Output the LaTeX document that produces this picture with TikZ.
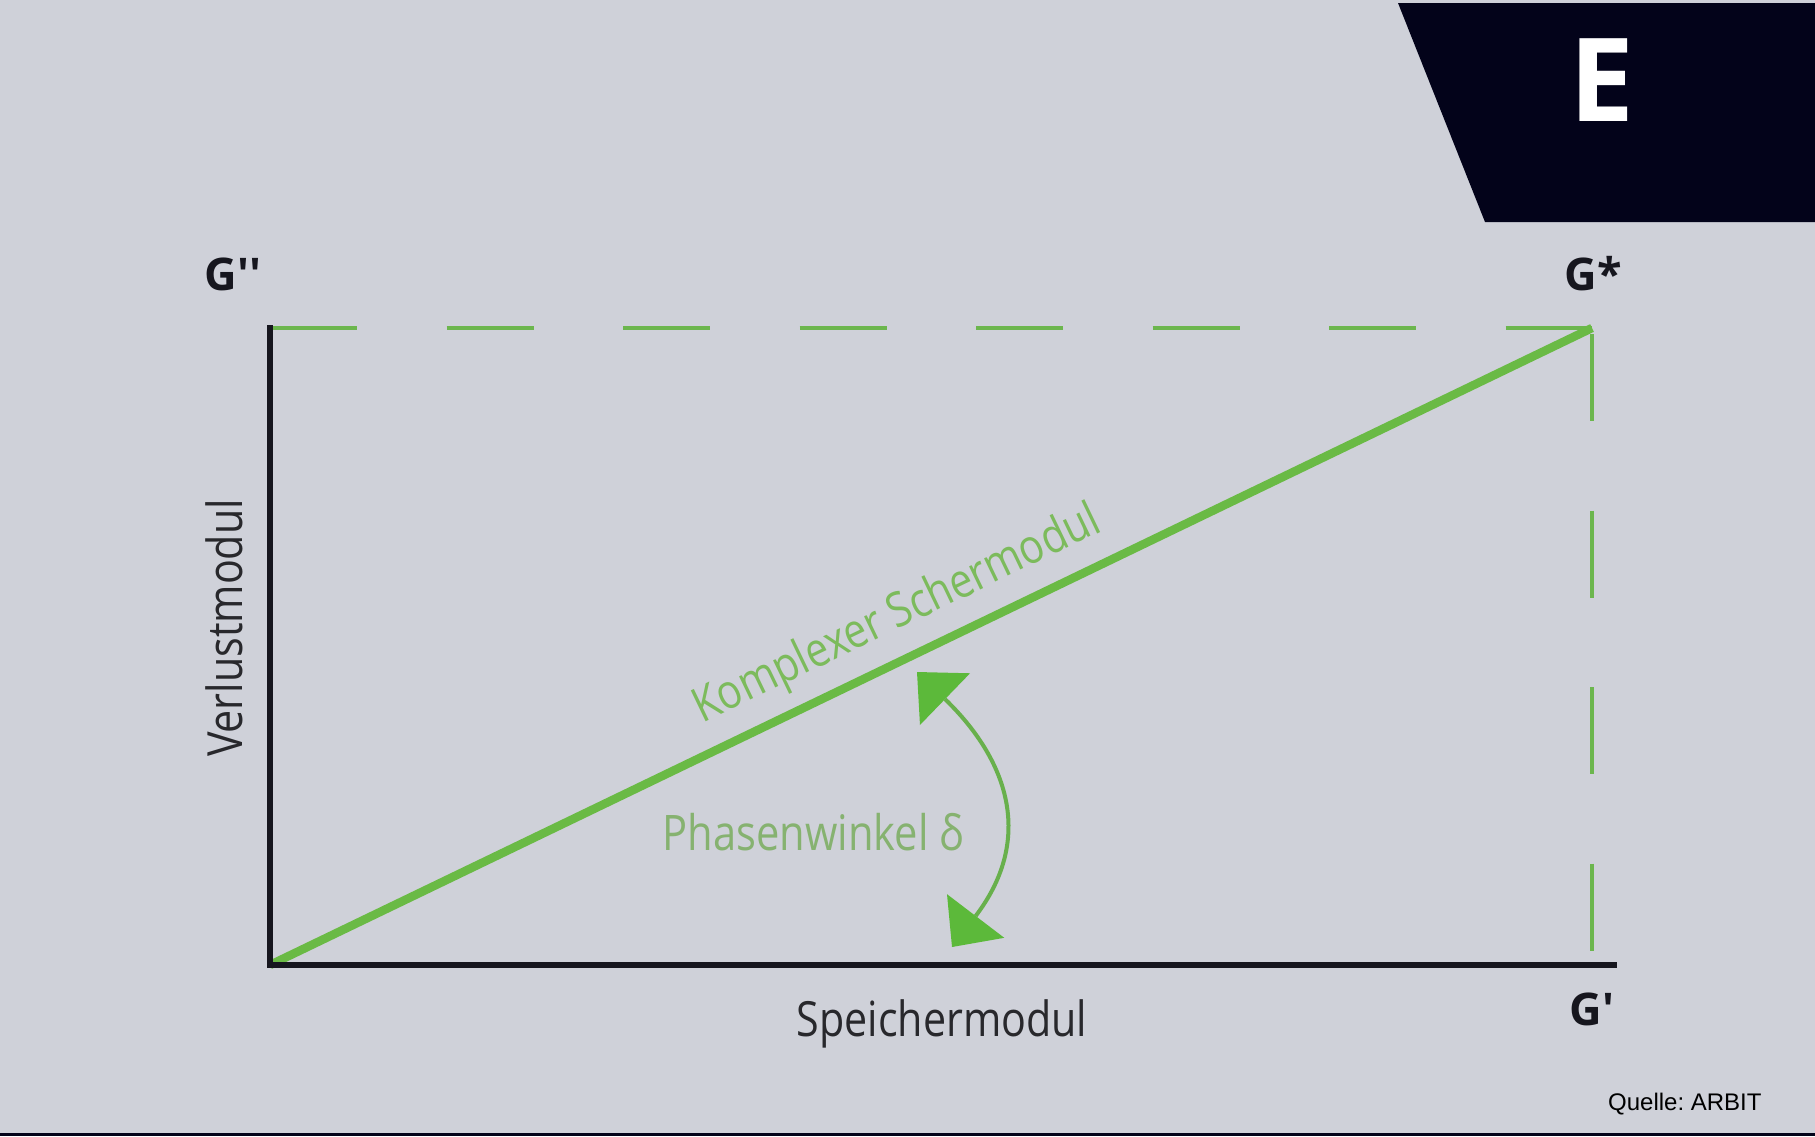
\documentclass[tikz,border=0pt]{standalone}
\usepackage{fontspec}
\setmainfont{Open Sans}
\newfontfamily\narrowfont{Open Sans}[FakeStretch=0.85]
\newfontfamily\sourcefont{Liberation Sans}
\usetikzlibrary{arrows.meta}

\definecolor{bgcol}{RGB}{207,209,217}
\definecolor{navy}{RGB}{3,3,26}
\definecolor{axiscol}{RGB}{22,22,30}
\definecolor{vecgreen}{RGB}{106,186,69}
\definecolor{dashgreen}{RGB}{108,182,78}
\definecolor{txtgreen}{RGB}{124,187,92}
\definecolor{anglegreen}{RGB}{134,178,112}
\definecolor{shaftgreen}{RGB}{104,176,76}
\definecolor{tipgreen}{RGB}{92,185,58}
\definecolor{labelgray}{RGB}{40,40,44}

\tikzset{bigtip/.tip={Triangle[length=39pt,width=72pt,line width=0pt,color=tipgreen]}}

\begin{document}
\begin{tikzpicture}[x=1pt,y=-1pt,
  axisline/.style={draw=axiscol,line width=6pt},
  guide/.style={draw=dashgreen,line width=4.5pt,dash pattern=on 87pt off 89.5pt},
  vector/.style={draw=vecgreen,line width=8.5pt},
  corner/.style={font=\fontsize{45}{54}\selectfont\bfseries,text=axiscol,inner sep=0pt,anchor=base},
  axislabel/.style={font=\narrowfont\fontsize{48.5}{58}\selectfont,text=labelgray,inner sep=0pt,anchor=base},
  vectorlabel/.style={font=\narrowfont\fontsize{48}{58}\selectfont,text=txtgreen,inner sep=0pt,anchor=base},
  anglelabel/.style={font=\narrowfont\fontsize{49}{58}\selectfont,text=anglegreen,inner sep=0pt,anchor=base},
  anglearrow/.style={draw=shaftgreen,line width=4pt,bigtip-bigtip}
]
% canvas and frame
\fill[bgcol] (0,0) rectangle (1815,1136);
\useasboundingbox (0,0) rectangle (1815,1136);
\fill[navy] (0,1133) rectangle (1815,1136);

% dark tab with the letter
\fill[navy] (1398,3) -- (1815,3) -- (1815,222) -- (1485,222) -- cycle;
\node[font=\fontsize{116}{130}\selectfont\bfseries,text=white,anchor=base,inner sep=0pt] (tabletter) at (1602,121) {E};

% key points of the diagram
\coordinate (O) at (270,965);
\coordinate (Gpp) at (270,328);
\coordinate (Gst) at (1592,328);
\coordinate (Gp) at (1592,965);
\coordinate (ytop) at (270,325);
\coordinate (xend) at (1617,965);

% projection guides
\draw[guide] (Gpp) -- (Gst);
\draw[guide,dash phase=-6pt] (Gst) -- (Gp);

% complex modulus vector
\draw[vector] (O) -- (Gst);

% axes
\draw[axisline,line join=miter] (ytop) -- (O) -- (xend);

% phase angle arrow
\coordinate (tipA) at (917,672);
\coordinate (tipB) at (952,947);
\draw[anglearrow] (tipA) .. controls (1012,764) and (1032,842) .. (tipB);

% labels
\node[corner] (lGpp) at (233,290) {G\textquotesingle\textquotesingle};
\node[corner] (lGst) at (1593,290) {G*};
\node[corner] (lGp) at (1592,1025) {G\textquotesingle};

\node[axislabel] (smod) at (942,1036) {Speichermodul};
\node[axislabel,rotate=90] (vmod) at (242,628) {Verlustmodul};
\node[vectorlabel,rotate=25.66] (cmod) at (903,627) {Komplexer Schermodul};
\node[anglelabel] (phase) at (813,850) {Phasenwinkel δ};

\node[font=\sourcefont\fontsize{24}{28}\selectfont\frenchspacing,anchor=base west,inner sep=0pt] (src) at (1608,1110) {Quelle: ARBIT};
\end{tikzpicture}
\end{document}
